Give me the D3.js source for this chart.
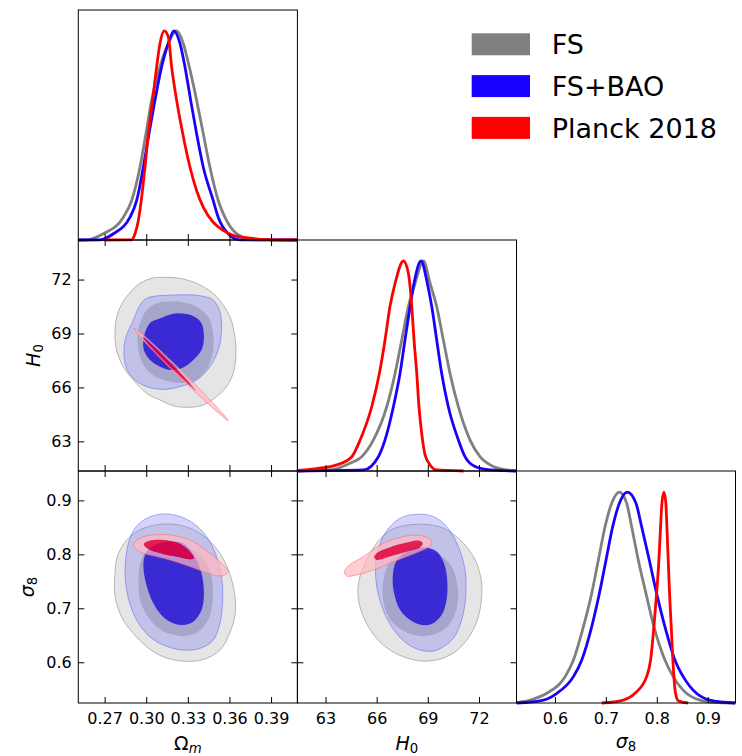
<!DOCTYPE html>
<html>
<head>
<meta charset="utf-8">
<script src="https://cdn.jsdelivr.net/npm/d3@7"></script>
<style>
  html, body { margin: 0; padding: 0; background: #fff; }
  svg { display: block; }
  text { font-family: "DejaVu Sans", sans-serif; fill: #000; }
</style>
</head>
<body>
<svg id="chart" width="742" height="756"></svg>
<script>
// ---------------- data ----------------
const seriesNames = ["FS", "FS+BAO", "Planck 2018"];

const omTicks = [0.27, 0.30, 0.33, 0.36, 0.39];
const omTickLabels = ["0.27", "0.30", "0.33", "0.36", "0.39"];
const h0Ticks = [63, 66, 69, 72];
const h0TickLabels = ["63", "66", "69", "72"];
const s8Ticks = [0.6, 0.7, 0.8, 0.9];
const s8TickLabels = ["0.6", "0.7", "0.8", "0.9"];

// marginalised 1D posteriors: [parameter value, density normalised to peak]
const omFS = [[0.251,0],[0.257,0.001],[0.269,0.03],[0.2835,0.109],[0.2895,0.189],[0.2955,0.349],[0.2998,0.509],[0.3039,0.669],[0.3099,0.829],[0.3159,0.94],[0.3219,1.0],[0.3267,0.94],[0.3310,0.829],[0.3363,0.669],[0.3411,0.509],[0.3459,0.349],[0.3519,0.189],[0.3567,0.109],[0.3652,0.03],[0.3772,0.001],[0.409,0]];
const omFSBAO = [[0.251,0],[0.2666,0.001],[0.2763,0.03],[0.2883,0.109],[0.2931,0.189],[0.2979,0.349],[0.3020,0.509],[0.3063,0.669],[0.3111,0.829],[0.3159,0.94],[0.3200,1.0],[0.3243,0.94],[0.3279,0.829],[0.3320,0.669],[0.3363,0.509],[0.3411,0.349],[0.3483,0.189],[0.3519,0.109],[0.3591,0.03],[0.3676,0.001],[0.409,0]];
const omPlanck = [[0.27,0],[0.2895,0.001],[0.2919,0.03],[0.2943,0.093],[0.2967,0.205],[0.2991,0.349],[0.3015,0.509],[0.3046,0.669],[0.3075,0.828],[0.3099,0.94],[0.3130,1.0],[0.3159,0.972],[0.3183,0.828],[0.3219,0.669],[0.3263,0.509],[0.3315,0.349],[0.3363,0.237],[0.3411,0.157],[0.3483,0.085],[0.3555,0.046],[0.3627,0.022],[0.3747,0.009],[0.3868,0.002],[0.409,0]];

const h0FS = [[61.35,0],[63.27,0.005],[64.44,0.037],[65.12,0.068],[65.81,0.148],[66.59,0.306],[67.08,0.465],[67.47,0.624],[67.86,0.783],[68.25,0.894],[68.74,1.0],[69.13,0.894],[69.52,0.783],[69.91,0.624],[70.30,0.465],[70.79,0.306],[71.47,0.148],[72.06,0.068],[72.84,0.021],[73.62,0.005],[74.2,0]];
const h0FSBAO = [[61.35,0],[65.22,0.005],[66.10,0.068],[66.49,0.148],[66.98,0.306],[67.37,0.465],[67.66,0.624],[67.96,0.783],[68.19,0.894],[68.60,1.0],[68.97,0.894],[69.23,0.783],[69.52,0.624],[69.81,0.465],[70.20,0.306],[70.79,0.148],[71.18,0.068],[71.77,0.021],[72.64,0.005],[74.2,0]];
const h0Planck = [[61.35,0.003],[62.09,0.008],[63.66,0.029],[64.54,0.068],[65.03,0.148],[65.71,0.306],[66.16,0.465],[66.49,0.624],[66.78,0.783],[67.08,0.894],[67.57,1.0],[67.86,0.941],[68.06,0.783],[68.19,0.624],[68.35,0.465],[68.48,0.306],[68.64,0.179],[68.83,0.079],[69.13,0.029],[69.52,0.005],[71.1,0]];

const s8FS = [[0.525,0.002],[0.5514,0.014],[0.5841,0.046],[0.6200,0.125],[0.6363,0.204],[0.6559,0.362],[0.6722,0.520],[0.6853,0.678],[0.6984,0.836],[0.7114,0.947],[0.7265,1.0],[0.7408,0.947],[0.7506,0.836],[0.7636,0.678],[0.7787,0.520],[0.7943,0.362],[0.8159,0.204],[0.8322,0.125],[0.8583,0.046],[0.8844,0.014],[0.92,0.002],[0.954,0]];
const s8FSBAO = [[0.525,0],[0.5776,0.014],[0.6037,0.046],[0.6363,0.125],[0.6527,0.204],[0.6722,0.362],[0.6873,0.520],[0.7003,0.678],[0.7134,0.836],[0.7265,0.947],[0.7421,1.0],[0.7591,0.947],[0.7702,0.836],[0.7852,0.678],[0.7996,0.520],[0.8159,0.362],[0.8355,0.204],[0.8518,0.125],[0.8779,0.046],[0.9040,0.014],[0.954,0]];
const s8Planck = [[0.6918,0],[0.7343,0.014],[0.7571,0.046],[0.7800,0.125],[0.7878,0.204],[0.7943,0.362],[0.7996,0.520],[0.8041,0.678],[0.8074,0.836],[0.8100,0.947],[0.8139,1.0],[0.8178,0.947],[0.8198,0.836],[0.8224,0.678],[0.8250,0.520],[0.8283,0.362],[0.8315,0.204],[0.8335,0.125],[0.8368,0.046],[0.8420,0.011],[0.8616,0]];

// 2D credible-region outlines (95% and 68%) in parameter units
// Omega_m vs H0
const omH0FS95 = [[0.3051,72.09],[0.3099,72.12],[0.3243,72.07],[0.3387,71.70],[0.3507,71.05],[0.3603,69.94],[0.3639,68.82],[0.3646,67.71],[0.3627,66.78],[0.3579,66.04],[0.3507,65.49],[0.3411,65.02],[0.3303,64.89],[0.3195,64.98],[0.3099,65.30],[0.3003,65.67],[0.2907,66.41],[0.2834,67.15],[0.2786,68.08],[0.2775,69.19],[0.2798,70.21],[0.2859,71.05],[0.2955,71.79]];
const omH0FS68 = [[0.3075,70.68],[0.3243,70.77],[0.3363,70.49],[0.3447,69.94],[0.3483,69.01],[0.3483,68.08],[0.3447,67.15],[0.3375,66.50],[0.3279,66.26],[0.3171,66.32],[0.3063,66.60],[0.2979,67.25],[0.2943,68.08],[0.2938,69.01],[0.2967,69.84],[0.3015,70.40]];
const omH0BAO95 = [[0.3003,70.96],[0.3195,71.14],[0.3387,71.10],[0.3483,70.86],[0.3531,70.21],[0.3543,69.19],[0.3519,68.08],[0.3459,67.15],[0.3363,66.41],[0.3243,66.04],[0.3123,65.89],[0.3003,66.04],[0.2907,66.50],[0.2854,67.15],[0.2839,68.08],[0.2854,68.82],[0.2907,69.75],[0.2955,70.58]];
const omH0BAO68 = [[0.3099,69.84],[0.3219,70.12],[0.3339,69.97],[0.3399,69.56],[0.3416,68.82],[0.3399,68.08],[0.3339,67.52],[0.3255,67.06],[0.3171,66.97],[0.3099,67.15],[0.3027,67.52],[0.2983,68.08],[0.2979,68.64],[0.3003,69.29],[0.3039,69.66]];
const omH0PL95 = [[0.2911,69.29],[0.2961,69.04],[0.3100,68.07],[0.3270,66.81],[0.3435,65.51],[0.3563,64.44],[0.3591,64.15],[0.3553,64.37],[0.3412,65.33],[0.3240,66.57],[0.3073,67.85],[0.2944,68.91]];
const omH0PL68 = [[0.2974,68.82],[0.3017,68.56],[0.3174,67.38],[0.3323,66.15],[0.3358,65.82],[0.3317,66.09],[0.3158,67.26],[0.3007,68.48]];

// Omega_m vs sigma_8
const omS8FS95 = [[0.2775,0.7649],[0.2770,0.7401],[0.2786,0.7092],[0.2834,0.6782],[0.2907,0.6534],[0.3003,0.6287],[0.3123,0.6101],[0.3267,0.6020],[0.3411,0.6051],[0.3531,0.6225],[0.3601,0.6534],[0.3642,0.6906],[0.3637,0.7277],[0.3601,0.7649],[0.3531,0.8020],[0.3435,0.8299],[0.3315,0.8485],[0.3195,0.8559],[0.3075,0.8547],[0.2955,0.8454],[0.2871,0.8299],[0.2811,0.8082],[0.2782,0.7866]];
const omS8FS68 = [[0.3027,0.8113],[0.3195,0.8157],[0.3339,0.8082],[0.3435,0.7835],[0.3479,0.7463],[0.3479,0.7092],[0.3447,0.6782],[0.3375,0.6565],[0.3279,0.6485],[0.3171,0.6522],[0.3075,0.6658],[0.3003,0.6875],[0.2955,0.7154],[0.2943,0.7463],[0.2950,0.7773],[0.2979,0.7990]];
const omS8BAO95 = [[0.2847,0.7711],[0.2863,0.7277],[0.2907,0.6906],[0.2979,0.6596],[0.3075,0.6380],[0.3195,0.6256],[0.3279,0.6225],[0.3387,0.6256],[0.3483,0.6410],[0.3531,0.6720],[0.3551,0.7154],[0.3543,0.7587],[0.3507,0.7959],[0.3435,0.8330],[0.3339,0.8578],[0.3219,0.8720],[0.3099,0.8745],[0.2991,0.8652],[0.2919,0.8485],[0.2871,0.8206]];
const omS8BAO68 = [[0.3039,0.8144],[0.3147,0.8237],[0.3267,0.8206],[0.3351,0.7959],[0.3399,0.7649],[0.3416,0.7277],[0.3399,0.6968],[0.3339,0.6751],[0.3255,0.6689],[0.3171,0.6751],[0.3099,0.6906],[0.3039,0.7154],[0.2998,0.7463],[0.2979,0.7773],[0.2991,0.7990]];
const omS8PL95 = [[0.2907,0.8175],[0.2931,0.8268],[0.3003,0.8342],[0.3099,0.8367],[0.3219,0.8342],[0.3339,0.8237],[0.3459,0.8020],[0.3555,0.7804],[0.3591,0.7680],[0.3567,0.7618],[0.3519,0.7599],[0.3435,0.7661],[0.3315,0.7773],[0.3195,0.7878],[0.3075,0.7959],[0.2979,0.8020],[0.2926,0.8095]];
const omS8PL68 = [[0.2983,0.8194],[0.3027,0.8256],[0.3123,0.8268],[0.3219,0.8219],[0.3291,0.8113],[0.3344,0.7928],[0.3315,0.7909],[0.3219,0.7959],[0.3123,0.8008],[0.3039,0.8070],[0.2996,0.8132]];

// H0 vs sigma_8
const h0S8FS95 = [[67.37,0.8516],[68.74,0.8559],[69.91,0.8485],[70.89,0.8268],[71.67,0.7959],[72.10,0.7587],[72.16,0.7216],[71.90,0.6782],[71.28,0.6410],[70.30,0.6132],[68.93,0.6020],[67.57,0.6101],[66.39,0.6318],[65.51,0.6658],[64.97,0.7092],[64.93,0.7463],[65.32,0.7835],[66.00,0.8206],[66.69,0.8423]];
const h0S8FS68 = [[67.37,0.8033],[68.74,0.8082],[69.71,0.7990],[70.40,0.7773],[70.75,0.7401],[70.75,0.7092],[70.49,0.6813],[69.91,0.6596],[68.93,0.6485],[67.96,0.6522],[67.08,0.6689],[66.55,0.6937],[66.33,0.7277],[66.43,0.7587],[66.78,0.7866]];
const h0S8BAO95 = [[67.37,0.8671],[68.45,0.8745],[69.32,0.8702],[70.10,0.8516],[70.79,0.8144],[71.18,0.7711],[71.22,0.7216],[70.98,0.6782],[70.49,0.6441],[69.52,0.6225],[68.74,0.6212],[67.76,0.6349],[66.88,0.6658],[66.24,0.7092],[65.94,0.7587],[66.04,0.8020],[66.49,0.8392]];
const h0S8BAO68 = [[67.76,0.8051],[68.74,0.8132],[69.52,0.8051],[69.95,0.7835],[70.14,0.7525],[70.10,0.7154],[69.81,0.6875],[69.23,0.6708],[68.64,0.6689],[67.96,0.6782],[67.37,0.6968],[67.02,0.7277],[66.94,0.7587],[67.14,0.7866]];
const h0S8PL95 = [[64.11,0.7680],[64.34,0.7785],[65.22,0.7959],[66.20,0.8175],[67.17,0.8299],[68.15,0.8355],[68.93,0.8318],[69.23,0.8237],[69.13,0.8157],[68.64,0.8070],[67.76,0.7959],[66.78,0.7835],[65.81,0.7711],[64.83,0.7618],[64.24,0.7599]];
const h0S8PL68 = [[65.85,0.7946],[66.00,0.8020],[66.78,0.8132],[67.76,0.8219],[68.45,0.8256],[68.70,0.8206],[68.54,0.8132],[67.76,0.8051],[66.78,0.7959],[66.00,0.7897]];

// ---------------- appearance ----------------
const styles = {
  FS:  { line: "#808080", fill95: "#e5e5e5", op95: 1,    fill68: "#bdbdbd",         op68: 1,    edge: "#a3a3a3" },
  BAO: { line: "#1a00ff", fill95: "rgb(112,112,238)", op95: 0.3, fill68: "rgb(35,16,216)", op68: 0.85, edge: "rgba(70,70,255,0.55)" },
  PL:  { line: "#ff0000", fill95: "rgb(255,184,191)", op95: 0.7, fill68: "rgb(235,0,55)",  op68: 0.85, edge: "rgba(255,100,120,0.7)" }
};
const seriesKeys = ["FS", "BAO", "PL"];

const colEdges = [78.3, 297.4, 516.5, 735.5];
const rowEdges = [10, 240, 471, 703];
const ranges = { om: [0.251, 0.409], h0: [61.35, 74.2], s8: [0.5245, 0.9545] };
const ticks = {
  om: { v: omTicks, l: omTickLabels },
  h0: { v: h0Ticks, l: h0TickLabels },
  s8: { v: s8Ticks, l: s8TickLabels }
};
const TICK = 6;
const FONT = 16;

const svg = d3.select("#chart");
const defs = svg.append("defs");

function xScale(col, key) {
  return d3.scaleLinear().domain(ranges[key]).range([colEdges[col], colEdges[col + 1]]);
}
function yScale(row, key) {
  return d3.scaleLinear().domain(ranges[key]).range([rowEdges[row + 1], rowEdges[row]]);
}

function clipFor(col, row) {
  const id = `clip-${col}-${row}`;
  defs.append("clipPath").attr("id", id).append("rect")
    .attr("x", colEdges[col]).attr("y", rowEdges[row])
    .attr("width", colEdges[col + 1] - colEdges[col])
    .attr("height", rowEdges[row + 1] - rowEdges[row]);
  return `url(#${id})`;
}

function styleAxis(g) {
  g.select(".domain").remove();
  g.attr("font-family", null).attr("font-size", null);
  g.selectAll(".tick line").attr("stroke", "#000").attr("stroke-width", 1);
  g.selectAll(".tick text").attr("fill", "#000").style("font-size", FONT + "px");
}

function frame(col, row) {
  svg.append("rect")
    .attr("x", colEdges[col]).attr("y", rowEdges[row])
    .attr("width", colEdges[col + 1] - colEdges[col])
    .attr("height", rowEdges[row + 1] - rowEdges[row])
    .attr("fill", "none").attr("stroke", "#000").attr("stroke-width", 1);
}

// bottom axis, labelled only on the last row
function bottomAxis(col, row, xs, key, labelled) {
  const t = ticks[key];
  svg.append("g")
    .attr("transform", `translate(0,${rowEdges[row + 1]})`)
    .call(d3.axisBottom(xs).tickValues(t.v)
      .tickFormat((d, i) => labelled ? t.l[i] : "")
      .tickSizeInner(-TICK).tickSizeOuter(0).tickPadding(10))
    .call(styleAxis);
}

function draw1D(i, key, curves) {
  const xs = xScale(i, key);
  const ys = d3.scaleLinear().domain([0, 1.1]).range([rowEdges[i + 1], rowEdges[i]]);
  const line = d3.line().x(d => xs(d[0])).y(d => ys(d[1])).curve(d3.curveMonotoneX);
  const g = svg.append("g");
  curves.forEach((c, k) => {
    g.append("path").attr("d", line(c))
      .attr("fill", "none").attr("stroke", styles[seriesKeys[k]].line)
      .attr("stroke-width", 2.8).attr("stroke-linejoin", "round");
  });
  bottomAxis(i, i, xs, key, i === 2);
  frame(i, i);
}

function draw2D(col, row, xKey, yKey, regions) {
  const xs = xScale(col, xKey);
  const ys = yScale(row, yKey);
  const shape = d3.line().x(d => xs(d[0])).y(d => ys(d[1]))
    .curve(d3.curveCatmullRomClosed.alpha(0.5));
  const g = svg.append("g").attr("clip-path", clipFor(col, row));
  regions.forEach((r, k) => {
    const st = styles[seriesKeys[k]];
    g.append("path").attr("d", shape(r[0]) + shape(r[1]))
      .attr("fill-rule", "evenodd").attr("fill", st.fill95).attr("fill-opacity", st.op95);
    g.append("path").attr("d", shape(r[1]))
      .attr("fill", st.fill68).attr("fill-opacity", st.op68);
    g.append("path").attr("d", shape(r[0]))
      .attr("fill", "none").attr("stroke", st.edge).attr("stroke-width", 0.8);
  });

  const tx = ticks[xKey], ty = ticks[yKey];
  bottomAxis(col, row, xs, xKey, row === 2);
  svg.append("g").attr("transform", `translate(0,${rowEdges[row]})`)
    .call(d3.axisTop(xs).tickValues(tx.v).tickFormat("").tickSizeInner(-TICK).tickSizeOuter(0))
    .call(styleAxis);
  svg.append("g").attr("transform", `translate(${colEdges[col]},0)`)
    .call(d3.axisLeft(ys).tickValues(ty.v)
      .tickFormat((d, i) => col === 0 ? ty.l[i] : "")
      .tickSizeInner(-TICK).tickSizeOuter(0).tickPadding(6.6))
    .call(styleAxis);
  svg.append("g").attr("transform", `translate(${colEdges[col + 1]},0)`)
    .call(d3.axisRight(ys).tickValues(ty.v).tickFormat("").tickSizeInner(-TICK).tickSizeOuter(0))
    .call(styleAxis);
  frame(col, row);
}

// diagonal
draw1D(0, "om", [omFS, omFSBAO, omPlanck]);
draw1D(1, "h0", [h0FS, h0FSBAO, h0Planck]);
draw1D(2, "s8", [s8FS, s8FSBAO, s8Planck]);

// lower triangle
draw2D(0, 1, "om", "h0", [[omH0FS95, omH0FS68], [omH0BAO95, omH0BAO68], [omH0PL95, omH0PL68]]);
draw2D(0, 2, "om", "s8", [[omS8FS95, omS8FS68], [omS8BAO95, omS8BAO68], [omS8PL95, omS8PL68]]);
draw2D(1, 2, "h0", "s8", [[h0S8FS95, h0S8FS68], [h0S8BAO95, h0S8BAO68], [h0S8PL95, h0S8PL68]]);

// axis labels with subscripts
function mathText(sel, main, sub, mainItalic, subItalic) {
  sel.append("tspan").text(main).attr("font-style", mainItalic ? "italic" : "normal");
  sel.append("tspan").text(sub).attr("font-size", "13.3px").attr("dy", "3")
    .attr("font-style", subItalic ? "italic" : "normal");
}
const LABEL = 19;
const xLabelY = [749.5, 749.5, 748];
[["Ω", "m", false, true], ["H", "0", true, false], ["σ", "8", true, false]].forEach((p, i) => {
  const t = svg.append("text")
    .attr("x", (colEdges[i] + colEdges[i + 1]) / 2).attr("y", xLabelY[i])
    .attr("text-anchor", "middle").style("font-size", LABEL + "px");
  mathText(t, p[0], p[1], p[2], p[3]);
});
[[1, 39.5, "H", "0"], [2, 33.5, "σ", "8"]].forEach(p => {
  const cy = (rowEdges[p[0]] + rowEdges[p[0] + 1]) / 2;
  const t = svg.append("text")
    .attr("transform", `translate(${p[1]},${cy}) rotate(-90)`)
    .attr("text-anchor", "middle").style("font-size", LABEL + "px");
  mathText(t, p[2], p[3], true, false);
});

// legend
const legend = svg.append("g").attr("transform", "translate(471.7,33.3)");
seriesNames.forEach((name, i) => {
  const row = legend.append("g").attr("transform", `translate(0,${i * 41.8})`);
  row.append("rect").attr("width", 58.3).attr("height", 22)
    .attr("fill", styles[seriesKeys[i]].line);
  row.append("text").attr("x", 80).attr("y", 20.8)
    .style("font-size", "27px").text(name);
});
</script>
</body>
</html>
